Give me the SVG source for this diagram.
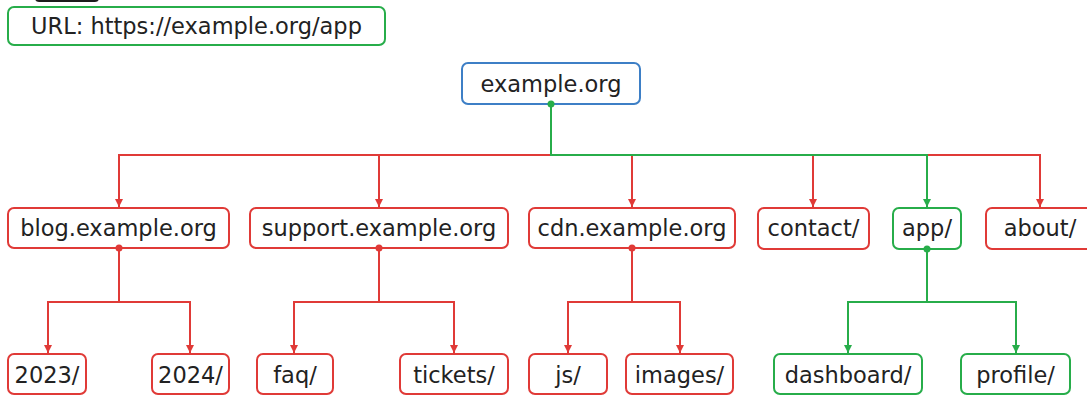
<svg xmlns="http://www.w3.org/2000/svg" width="1087" height="395" viewBox="0 0 1087 395">
<style>
.box{fill:#fff;stroke-width:2}
.r{stroke:#e03a37}
.g{stroke:#27ad4a}
.b{stroke:#3d7fc6}
.t{font-family:"DejaVu Sans",sans-serif;font-size:22.5px;fill:#222;text-anchor:middle}
.c{fill:none;stroke-width:2}
</style>
<defs>
<marker id="ar" markerUnits="userSpaceOnUse" markerWidth="10" markerHeight="10" refX="8" refY="4" orient="auto"><path d="M0,0 L8,4 L0,8 z" fill="#e03a37"/></marker>
<marker id="ag" markerUnits="userSpaceOnUse" markerWidth="10" markerHeight="10" refX="8" refY="4" orient="auto"><path d="M0,0 L8,4 L0,8 z" fill="#27ad4a"/></marker>
</defs>
<rect width="1087" height="395" fill="#fff"/>
<rect x="35" y="-20" width="64" height="22" rx="4" fill="#1c1c1c"/>
<g id="url"><rect class="box g" x="8" y="7" width="377" height="38" rx="6"/><text class="t" x="196.5" y="34">URL: https://example.org/app</text></g>
<g id="root"><rect class="box b" x="462" y="63" width="178" height="41" rx="6"/><text class="t" x="551" y="92">example.org</text></g>
<g id="blog"><rect class="box r" x="8" y="208" width="221" height="40" rx="6"/><text class="t" x="118.5" y="236">blog.example.org</text></g>
<g id="support"><rect class="box r" x="250" y="208" width="258" height="40" rx="6"/><text class="t" x="379" y="236">support.example.org</text></g>
<g id="cdn"><rect class="box r" x="529" y="208" width="206" height="40" rx="6"/><text class="t" x="632" y="236">cdn.example.org</text></g>
<g id="contact"><rect class="box r" x="758" y="208" width="111" height="41" rx="6"/><text class="t" x="813.5" y="236">contact/</text></g>
<g id="app"><rect class="box g" x="893" y="208" width="68" height="41" rx="6"/><text class="t" x="927" y="236">app/</text></g>
<g id="about"><rect class="box r" x="986" y="208" width="108" height="41" rx="6"/><text class="t" x="1040" y="236">about/</text></g>
<g id="y2023"><rect class="box r" x="8" y="354" width="78" height="40" rx="6"/><text class="t" x="47" y="383">2023/</text></g>
<g id="y2024"><rect class="box r" x="152" y="354" width="77" height="40" rx="6"/><text class="t" x="190.5" y="383">2024/</text></g>
<g id="faq"><rect class="box r" x="257" y="354" width="76" height="40" rx="6"/><text class="t" x="295" y="383">faq/</text></g>
<g id="tickets"><rect class="box r" x="400" y="354" width="108" height="40" rx="6"/><text class="t" x="454" y="383">tickets/</text></g>
<g id="js"><rect class="box r" x="529" y="354" width="78" height="40" rx="6"/><text class="t" x="568" y="383">js/</text></g>
<g id="images"><rect class="box r" x="626" y="354" width="107" height="40" rx="6"/><text class="t" x="679.5" y="383">images/</text></g>
<g id="dashboard"><rect class="box g" x="774" y="354" width="148" height="40" rx="6"/><text class="t" x="848" y="383">dashboard/</text></g>
<g id="profile"><rect class="box g" x="961" y="354" width="109" height="40" rx="6"/><text class="t" x="1015.5" y="383">profile/</text></g>
<g id="connectors">
<path class="c r" d="M551,155 H119 V207" marker-end="url(#ar)"/>
<path class="c r" d="M379,155 V207" marker-end="url(#ar)"/>
<path class="c r" d="M632,155 V207" marker-end="url(#ar)"/>
<path class="c r" d="M813,155 V207" marker-end="url(#ar)"/>
<path class="c r" d="M927,155 H1040 V207" marker-end="url(#ar)"/>
<path class="c g" d="M551,104 V155 H927 V207" marker-end="url(#ag)"/>
<path class="c r" d="M119,248 V302 H48 V353" marker-end="url(#ar)"/>
<path class="c r" d="M119,302 H190 V353" marker-end="url(#ar)"/>
<path class="c r" d="M379,248 V302 H294 V353" marker-end="url(#ar)"/>
<path class="c r" d="M379,302 H454 V353" marker-end="url(#ar)"/>
<path class="c r" d="M632,248 V302 H568 V353" marker-end="url(#ar)"/>
<path class="c r" d="M632,302 H680 V353" marker-end="url(#ar)"/>
<path class="c g" d="M927,249 V302 H848 V353" marker-end="url(#ag)"/>
<path class="c g" d="M927,302 H1016 V353" marker-end="url(#ag)"/>
<circle cx="551" cy="104" r="3.5" fill="#27ad4a"/>
<circle cx="119" cy="248" r="3.5" fill="#e03a37"/>
<circle cx="379" cy="248" r="3.5" fill="#e03a37"/>
<circle cx="632" cy="248" r="3.5" fill="#e03a37"/>
<circle cx="927" cy="249" r="3.5" fill="#27ad4a"/>
</g>
</svg>
